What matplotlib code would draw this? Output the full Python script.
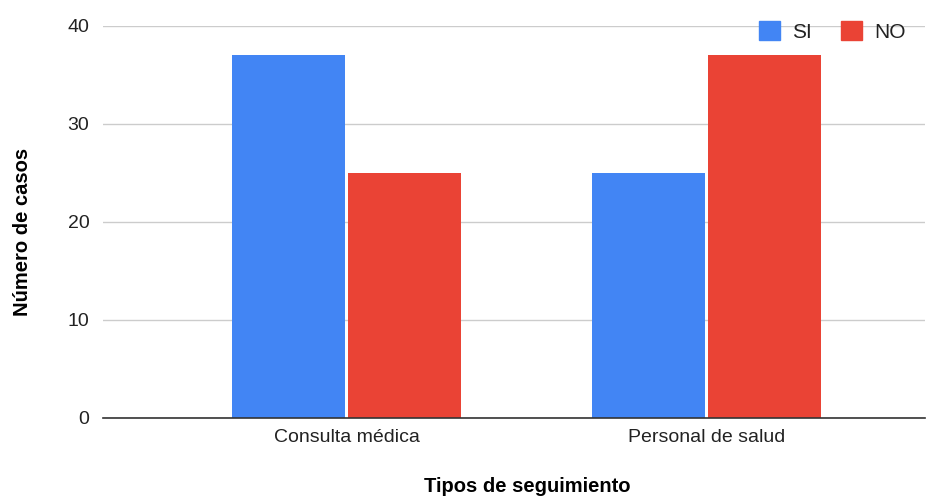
import numpy as np
import matplotlib.pyplot as plt
from matplotlib.patches import Patch

# Datos del gráfico
categorias = ['Consulta médica', 'Personal de salud']
valores_si = [37, 25]
valores_no = [25, 37]
color_si = '#4285F4'
color_no = '#EA4335'

plt.rcParams['font.family'] = ['Liberation Sans', 'DejaVu Sans']

fig = plt.figure(figsize=(9.38, 4.97), dpi=100)
ax = fig.add_axes([0.110, 0.159, 0.876, 0.789])

x = np.arange(len(categorias))
ancho = 0.314
ax.bar(x - 0.161, valores_si, ancho, color=color_si, zorder=3)
ax.bar(x + 0.1625, valores_no, ancho, color=color_no, zorder=3)

ax.set_xlim(-0.676, 1.607)
ax.set_ylim(0, 40)
ax.set_yticks([0, 10, 20, 30, 40])
ax.set_xticks(x)
ax.set_xticklabels(categorias)
ax.tick_params(axis='both', length=0, labelsize=14, colors='#222222', pad=8)
ax.tick_params(axis='y', pad=10)

ax.grid(axis='y', color='#cccccc', linewidth=1, zorder=0)
for s in ['top', 'right', 'left']:
    ax.spines[s].set_visible(False)
ax.spines['bottom'].set_color('#333333')
ax.spines['bottom'].set_linewidth(1.2)
ax.spines['bottom'].set_zorder(4)

ax.set_xlabel('Tipos de seguimiento', fontsize=14.5, fontweight='bold')
ax.set_ylabel('Número de casos', fontsize=14.5, fontweight='bold')
ax.xaxis.set_label_coords(0.516, -0.150)
ax.yaxis.set_label_coords(-0.087, 0.475)

handles = [Patch(color=color_si, label='SI'), Patch(color=color_no, label='NO')]
ax.legend(handles=handles, loc='upper right', bbox_to_anchor=(1.0, 1.06), ncol=2,
          frameon=False, fontsize=15, handlelength=1.0, handleheight=1.0,
          handletextpad=0.6, columnspacing=1.4, labelcolor='#222222')

fig.savefig('out.png', dpi=100)
